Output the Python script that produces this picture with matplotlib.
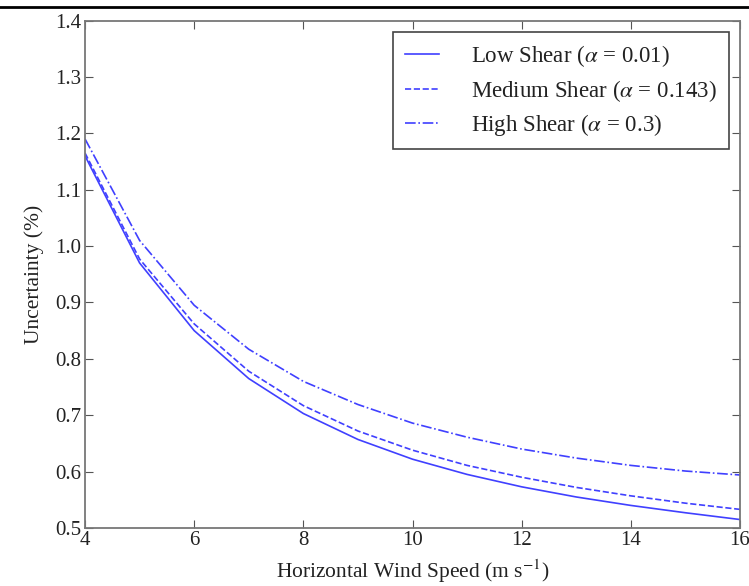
import numpy as np
import matplotlib
matplotlib.use("Agg")
import matplotlib.pyplot as plt
from matplotlib.lines import Line2D

plt.rcParams['font.family'] = ['Liberation Serif', 'DejaVu Serif']
plt.rcParams['mathtext.fontset'] = 'stix'

wind_speed = [4, 5, 6, 7, 8, 9, 10, 11, 12, 13, 14, 15, 16]
low_shear = [1.16, 0.97, 0.85, 0.765, 0.703, 0.657, 0.622, 0.595, 0.573, 0.555, 0.540, 0.527, 0.515]
medium_shear = [1.165, 0.977, 0.862, 0.778, 0.717, 0.672, 0.638, 0.611, 0.590, 0.572, 0.557, 0.544, 0.533]
high_shear = [1.19, 1.01, 0.895, 0.817, 0.760, 0.719, 0.686, 0.661, 0.640, 0.624, 0.611, 0.601, 0.594]

labels = [r'Low Shear ($\alpha$ = 0.01)',
          r'Medium Shear ($\alpha$ = 0.143)',
          r'High Shear ($\alpha$ = 0.3)']

fig = plt.figure(figsize=(7.49, 5.86), dpi=100)
ax = fig.add_axes([0.1135, 0.099, 0.8745, 0.866])

line_color = '#4040ff'
ax.plot(wind_speed, low_shear, '-', color=line_color, lw=1.2, label=labels[0])
ax.plot(wind_speed, medium_shear, '--', color=line_color, lw=1.2, label=labels[1])
ax.plot(wind_speed, high_shear, '-.', color=line_color, lw=1.2, label=labels[2])

ax.set_xlim(4, 16)
ax.set_ylim(0.5, 1.4)
ax.set_xticks(np.arange(4, 17, 2))
ax.set_yticks(np.arange(0.5, 1.41, 0.1))
ax.yaxis.set_major_formatter(matplotlib.ticker.FormatStrFormatter('%.1f'))
ax.tick_params(direction='in', top=True, right=True, length=6, width=0.8,
               colors='#555555', labelcolor='#222222', labelsize=15, pad=2.5)
for sp in ax.spines.values():
    sp.set_color('#777777')
    sp.set_linewidth(1.3)

ax.set_xlabel(r'Horizontal Wind Speed (m s$^{-1}$)', fontsize=15.5, color='#222222', labelpad=5)
ax.set_ylabel('Uncertainty (%)', fontsize=15.5, color='#222222', labelpad=8)

leg = ax.legend(loc='upper right', fontsize=16.5, fancybox=False, framealpha=1,
                edgecolor='#444444', borderpad=0.5, labelspacing=0.36,
                handlelength=1.5, handletextpad=1.4, borderaxespad=0.5)
leg.get_frame().set_linewidth(1.2)
for t in leg.get_texts():
    t.set_color('#222222')

fig.add_artist(Line2D([0, 1], [0.988, 0.988], color='black', lw=2.0,
                      transform=fig.transFigure))

fig.savefig('out.png', dpi=100)
